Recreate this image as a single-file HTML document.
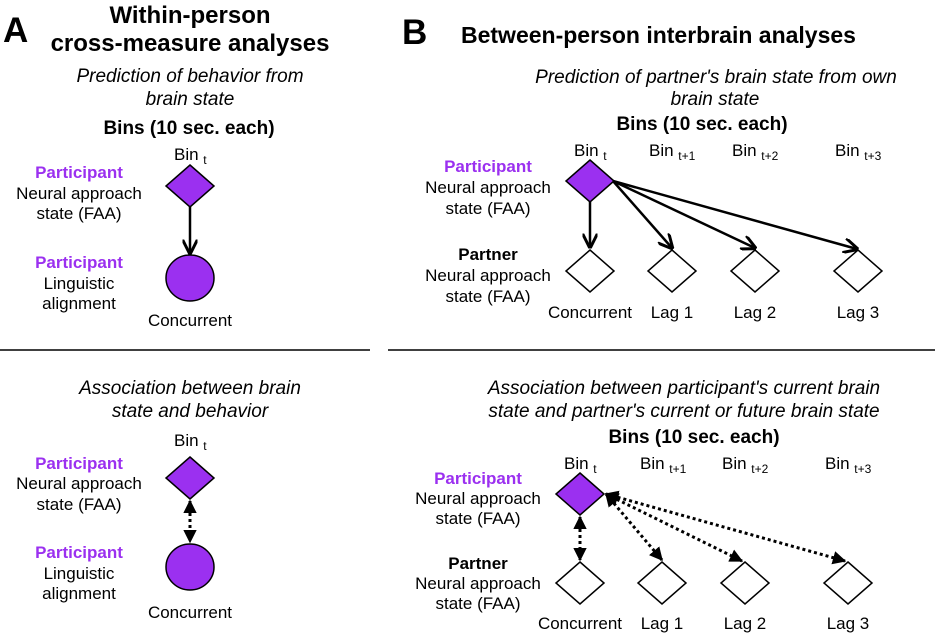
<!DOCTYPE html>
<html><head><style>
html,body{margin:0;padding:0;background:#fff}
svg{display:block}
text{font-family:"Liberation Sans",Arial,sans-serif;fill:#000}
.b{font-weight:bold}
.i{font-style:italic}
.p{fill:#9b30f0;font-weight:bold}
</style></head><body>
<svg width="935" height="637" viewBox="0 0 935 637" xmlns="http://www.w3.org/2000/svg">
<defs>
<marker id="ah" viewBox="0 0 10 10" refX="9" refY="5" markerWidth="6" markerHeight="6" orient="auto-start-reverse">
<path d="M0,0 L10,5 L0,10" fill="none" stroke="#000" stroke-width="2"/>
</marker>
<marker id="at" viewBox="0 0 10 10" refX="9" refY="5" markerWidth="4.5" markerHeight="4.5" orient="auto-start-reverse">
<path d="M0,0 L10,5 L0,10 z" fill="#000"/>
</marker>
</defs>
<g font-size="17">
<!-- Panel A -->
<text x="3" y="42" font-size="35" class="b">A</text>
<text x="190" y="23" font-size="24" class="b" text-anchor="middle">Within-person</text>
<text x="190" y="51" font-size="24" class="b" text-anchor="middle">cross-measure analyses</text>
<text x="190" y="82" font-size="19" class="i" text-anchor="middle">Prediction of behavior from</text>
<text x="190" y="105" font-size="19" class="i" text-anchor="middle">brain state</text>
<text x="189" y="134" font-size="19" class="b" text-anchor="middle">Bins (10 sec. each)</text>
<text x="174" y="160">Bin <tspan font-size="12" dy="4">t</tspan></text>
<polygon points="190,165 214,186 190,207 166,186" fill="#9b30f0" stroke="#000" stroke-width="1.5"/>
<line x1="190" y1="207" x2="190" y2="253" stroke="#000" stroke-width="2.5" marker-end="url(#ah)"/>
<ellipse cx="190" cy="278" rx="24" ry="23" fill="#9b30f0" stroke="#000" stroke-width="1.5"/>
<text x="190" y="326" text-anchor="middle">Concurrent</text>
<text x="79" y="178" class="p" text-anchor="middle">Participant</text>
<text x="79" y="199" text-anchor="middle">Neural approach</text>
<text x="79" y="219" text-anchor="middle">state (FAA)</text>
<text x="79" y="268" class="p" text-anchor="middle">Participant</text>
<text x="79" y="289" text-anchor="middle">Linguistic</text>
<text x="79" y="309" text-anchor="middle">alignment</text>

<line x1="0" y1="350" x2="370" y2="350" stroke="#000" stroke-width="1.5"/>

<text x="190" y="394" font-size="19" class="i" text-anchor="middle">Association between brain</text>
<text x="190" y="417" font-size="19" class="i" text-anchor="middle">state and behavior</text>
<text x="174" y="446">Bin <tspan font-size="12" dy="4">t</tspan></text>
<polygon points="190,457 214,478 190,499 166,478" fill="#9b30f0" stroke="#000" stroke-width="1.5"/>
<line x1="190" y1="501" x2="190" y2="542" stroke="#000" stroke-width="3" stroke-dasharray="3,3" marker-start="url(#at)" marker-end="url(#at)"/>
<ellipse cx="190" cy="567" rx="24" ry="23" fill="#9b30f0" stroke="#000" stroke-width="1.5"/>
<text x="190" y="618" text-anchor="middle">Concurrent</text>
<text x="79" y="469" class="p" text-anchor="middle">Participant</text>
<text x="79" y="489" text-anchor="middle">Neural approach</text>
<text x="79" y="510" text-anchor="middle">state (FAA)</text>
<text x="79" y="558" class="p" text-anchor="middle">Participant</text>
<text x="79" y="579" text-anchor="middle">Linguistic</text>
<text x="79" y="599" text-anchor="middle">alignment</text>

<!-- Panel B -->
<text x="402" y="44" font-size="35" class="b">B</text>
<text x="461" y="43" font-size="23" class="b">Between-person interbrain analyses</text>
<text x="716" y="83" font-size="19" class="i" text-anchor="middle">Prediction of partner's brain state from own</text>
<text x="715" y="105" font-size="19" class="i" text-anchor="middle">brain state</text>
<text x="702" y="130" font-size="19" class="b" text-anchor="middle">Bins (10 sec. each)</text>
<text x="574" y="156">Bin <tspan font-size="12" dy="4">t</tspan></text>
<text x="649" y="156">Bin <tspan font-size="12" dy="4">t+1</tspan></text>
<text x="732" y="156">Bin <tspan font-size="12" dy="4">t+2</tspan></text>
<text x="835" y="156">Bin <tspan font-size="12" dy="4">t+3</tspan></text>
<polygon points="590,160 614,181 590,202 566,181" fill="#9b30f0" stroke="#000" stroke-width="1.5"/>
<line x1="590" y1="202" x2="590" y2="247" stroke="#000" stroke-width="2.5" marker-end="url(#ah)"/>
<line x1="613" y1="181" x2="672" y2="248" stroke="#000" stroke-width="2.5" marker-end="url(#ah)"/>
<line x1="613" y1="181" x2="755" y2="248" stroke="#000" stroke-width="2.5" marker-end="url(#ah)"/>
<line x1="613" y1="181" x2="857" y2="249" stroke="#000" stroke-width="2.5" marker-end="url(#ah)"/>
<g fill="#fff" stroke="#000" stroke-width="1.5">
<polygon points="590,250 614,271 590,292 566,271"/>
<polygon points="672,250 696,271 672,292 648,271"/>
<polygon points="755,250 779,271 755,292 731,271"/>
<polygon points="858,250 882,271 858,292 834,271"/>
</g>
<text x="590" y="318" text-anchor="middle">Concurrent</text>
<text x="672" y="318" text-anchor="middle">Lag 1</text>
<text x="755" y="318" text-anchor="middle">Lag 2</text>
<text x="858" y="318" text-anchor="middle">Lag 3</text>
<text x="488" y="172" class="p" text-anchor="middle">Participant</text>
<text x="488" y="193" text-anchor="middle">Neural approach</text>
<text x="488" y="214" text-anchor="middle">state (FAA)</text>
<text x="488" y="260" class="b" text-anchor="middle">Partner</text>
<text x="488" y="281" text-anchor="middle">Neural approach</text>
<text x="488" y="302" text-anchor="middle">state (FAA)</text>

<line x1="388" y1="350" x2="935" y2="350" stroke="#000" stroke-width="1.5"/>

<text x="684" y="394" font-size="19" class="i" text-anchor="middle">Association between participant's current brain</text>
<text x="684" y="417" font-size="19" class="i" text-anchor="middle">state and partner's current or future brain state</text>
<text x="694" y="443" font-size="19" class="b" text-anchor="middle">Bins (10 sec. each)</text>
<text x="564" y="469">Bin <tspan font-size="12" dy="4">t</tspan></text>
<text x="640" y="469">Bin <tspan font-size="12" dy="4">t+1</tspan></text>
<text x="722" y="469">Bin <tspan font-size="12" dy="4">t+2</tspan></text>
<text x="825" y="469">Bin <tspan font-size="12" dy="4">t+3</tspan></text>
<polygon points="580,473 604,494 580,515 556,494" fill="#9b30f0" stroke="#000" stroke-width="1.5"/>
<g stroke="#000" stroke-width="3" stroke-dasharray="3,3" fill="none">
<line x1="580" y1="517" x2="580" y2="560" marker-start="url(#at)" marker-end="url(#at)"/>
<line x1="606" y1="494" x2="662" y2="560" marker-start="url(#at)" marker-end="url(#at)"/>
<line x1="606" y1="494" x2="742" y2="561" marker-start="url(#at)" marker-end="url(#at)"/>
<line x1="606" y1="494" x2="845" y2="561" marker-start="url(#at)" marker-end="url(#at)"/>
</g>
<g fill="#fff" stroke="#000" stroke-width="1.5">
<polygon points="580,562 604,583 580,604 556,583"/>
<polygon points="662,562 686,583 662,604 638,583"/>
<polygon points="745,562 769,583 745,604 721,583"/>
<polygon points="848,562 872,583 848,604 824,583"/>
</g>
<text x="580" y="629" text-anchor="middle">Concurrent</text>
<text x="662" y="629" text-anchor="middle">Lag 1</text>
<text x="745" y="629" text-anchor="middle">Lag 2</text>
<text x="848" y="629" text-anchor="middle">Lag 3</text>
<text x="478" y="484" class="p" text-anchor="middle">Participant</text>
<text x="478" y="504" text-anchor="middle">Neural approach</text>
<text x="478" y="524" text-anchor="middle">state (FAA)</text>
<text x="478" y="569" class="b" text-anchor="middle">Partner</text>
<text x="478" y="589" text-anchor="middle">Neural approach</text>
<text x="478" y="609" text-anchor="middle">state (FAA)</text>
</g>
</svg>
</body></html>
